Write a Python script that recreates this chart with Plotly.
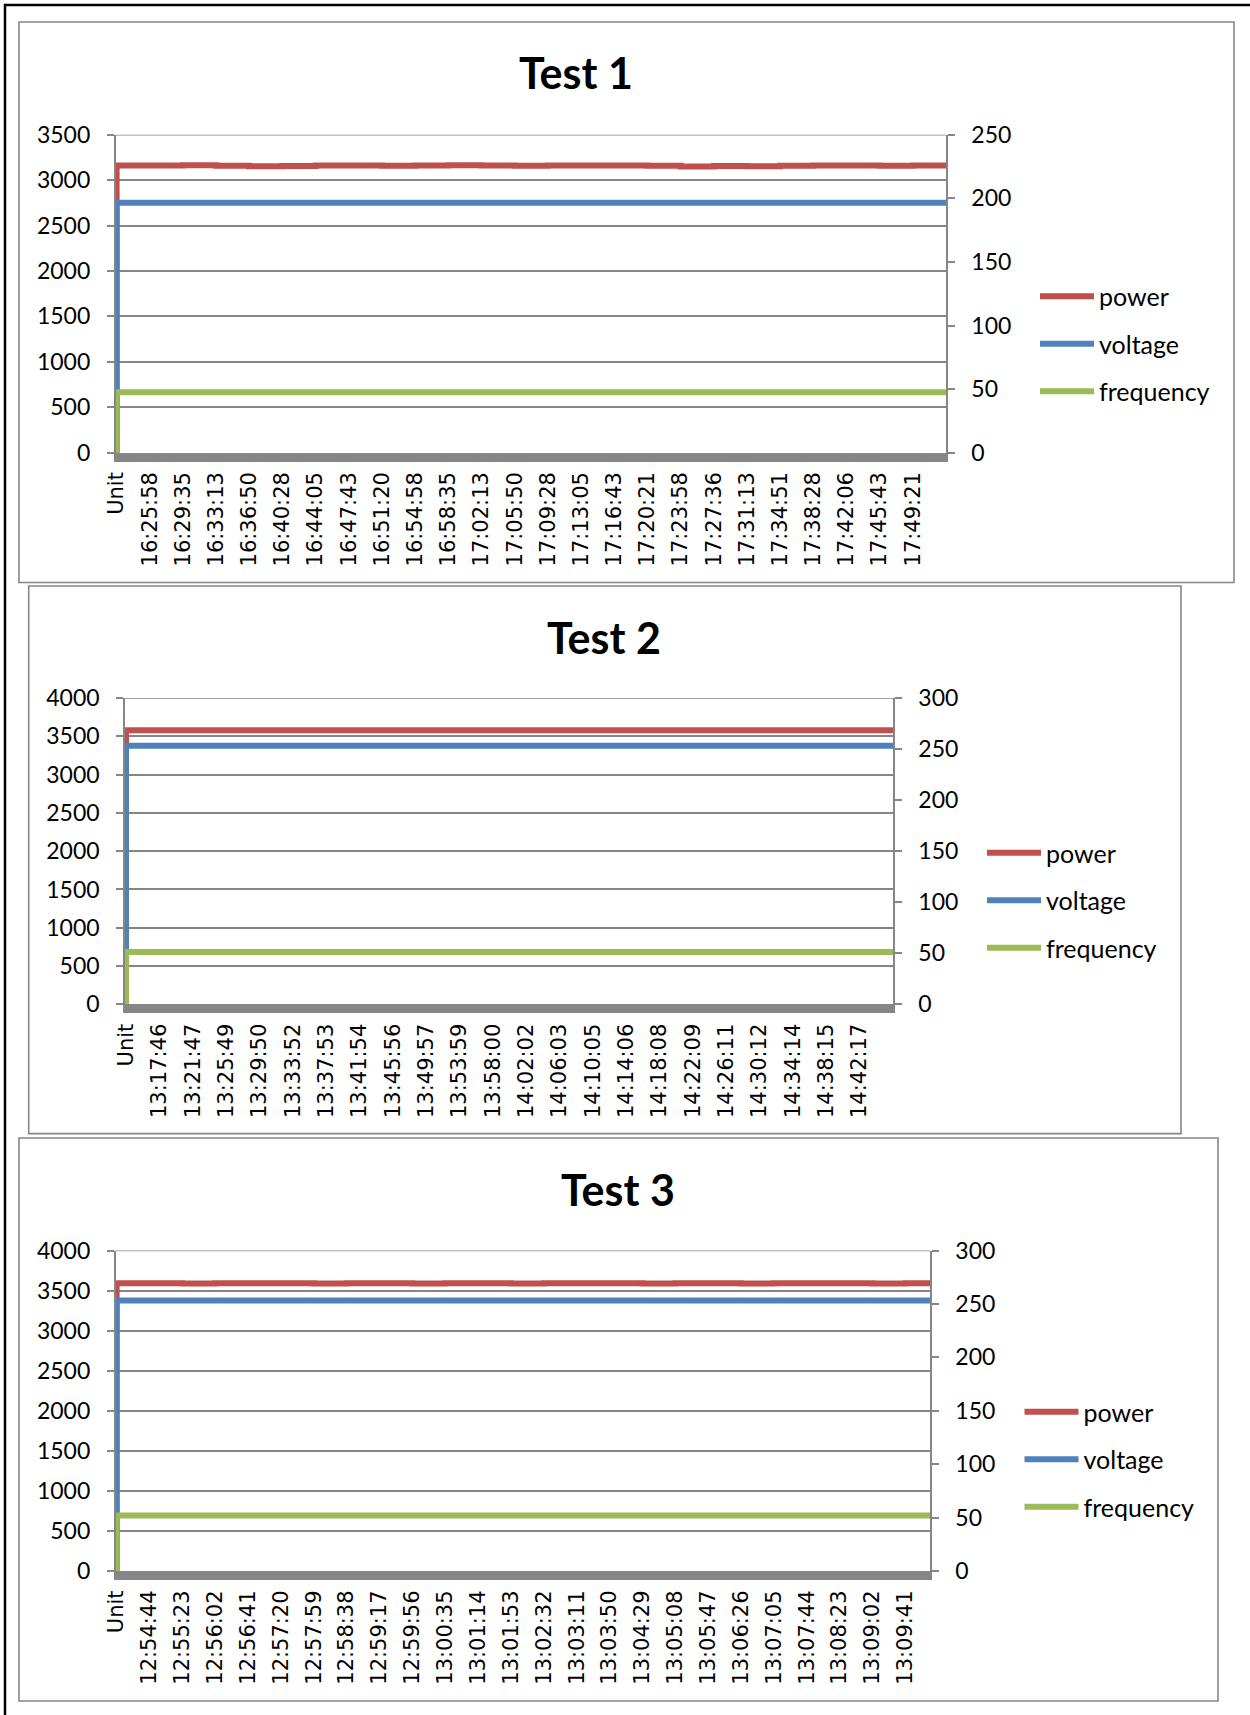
import plotly.graph_objects as go

# ---------------- data ----------------
series_names = ["power", "voltage", "frequency"]
series_colors = ["#C0504D", "#4F81BD", "#9BBB59"]

test1_times = ["16:25:58", "16:29:35", "16:33:13", "16:36:50", "16:40:28", "16:44:05",
               "16:47:43", "16:51:20", "16:54:58", "16:58:35", "17:02:13", "17:05:50",
               "17:09:28", "17:13:05", "17:16:43", "17:20:21", "17:23:58", "17:27:36",
               "17:31:13", "17:34:51", "17:38:28", "17:42:06", "17:45:43", "17:49:21"]
test2_times = ["13:17:46", "13:21:47", "13:25:49", "13:29:50", "13:33:52", "13:37:53",
               "13:41:54", "13:45:56", "13:49:57", "13:53:59", "13:58:00", "14:02:02",
               "14:06:03", "14:10:05", "14:14:06", "14:18:08", "14:22:09", "14:26:11",
               "14:30:12", "14:34:14", "14:38:15", "14:42:17"]
test3_times = ["12:54:44", "12:55:23", "12:56:02", "12:56:41", "12:57:20", "12:57:59",
               "12:58:38", "12:59:17", "12:59:56", "13:00:35", "13:01:14", "13:01:53",
               "13:02:32", "13:03:11", "13:03:50", "13:04:29", "13:05:08", "13:05:47",
               "13:06:26", "13:07:05", "13:07:44", "13:08:23", "13:09:02", "13:09:41"]

# first value belongs to the "Unit" header row
test1_power = [0, 3162, 3160, 3163, 3158, 3152, 3155, 3160, 3162, 3158, 3160, 3163, 3161,
               3159, 3161, 3160, 3162, 3159, 3151, 3155, 3152, 3157, 3161, 3160, 3158, 3162]
test1_voltage = [0, 196.5, 196.5, 196.5, 196.5, 196.5, 196.5, 196.5, 196.5, 196.5, 196.5,
                 196.5, 196.5, 196.5, 196.5, 196.5, 196.5, 196.5, 196.5, 196.5, 196.5,
                 196.5, 196.5, 196.5, 196.5, 196.5]
test1_frequency = [0, 47.5, 47.5, 47.5, 47.5, 47.5, 47.5, 47.5, 47.5, 47.5, 47.5, 47.5,
                   47.5, 47.5, 47.5, 47.5, 47.5, 47.5, 47.5, 47.5, 47.5, 47.5, 47.5, 47.5,
                   47.5, 47.5]

test2_power = [0, 3580, 3580, 3580, 3580, 3580, 3580, 3580, 3580, 3580, 3580, 3580, 3580,
               3580, 3580, 3580, 3580, 3580, 3580, 3580, 3580, 3580, 3580, 3580]
test2_voltage = [0, 253.3, 253.3, 253.3, 253.3, 253.3, 253.3, 253.3, 253.3, 253.3, 253.3,
                 253.3, 253.3, 253.3, 253.3, 253.3, 253.3, 253.3, 253.3, 253.3, 253.3,
                 253.3, 253.3, 253.3]
test2_frequency = [0, 51.3, 51.3, 51.3, 51.3, 51.3, 51.3, 51.3, 51.3, 51.3, 51.3, 51.3,
                   51.3, 51.3, 51.3, 51.3, 51.3, 51.3, 51.3, 51.3, 51.3, 51.3, 51.3, 51.3]

test3_power = [0, 3592, 3590, 3588, 3591, 3590, 3592, 3589, 3591, 3590, 3588, 3590, 3591,
               3589, 3590, 3592, 3590, 3588, 3590, 3591, 3589, 3590, 3592, 3590, 3589, 3591]
test3_voltage = [0, 253.3, 253.3, 253.3, 253.3, 253.3, 253.3, 253.3, 253.3, 253.3, 253.3,
                 253.3, 253.3, 253.3, 253.3, 253.3, 253.3, 253.3, 253.3, 253.3, 253.3,
                 253.3, 253.3, 253.3, 253.3, 253.3]
test3_frequency = [0, 51.9, 51.9, 51.9, 51.9, 51.9, 51.9, 51.9, 51.9, 51.9, 51.9, 51.9,
                   51.9, 51.9, 51.9, 51.9, 51.9, 51.9, 51.9, 51.9, 51.9, 51.9, 51.9, 51.9,
                   51.9, 51.9]

titles = ["Test 1", "Test 2", "Test 3"]
left_max = [3500, 4000, 4000]
right_max = [250, 300, 300]
x_end = [25, 23, 24.75]

tests = [
    (test1_times, test1_power, test1_voltage, test1_frequency),
    (test2_times, test2_power, test2_voltage, test2_frequency),
    (test3_times, test3_power, test3_voltage, test3_frequency),
]

# ---------------- layout geometry (pixels) ----------------
W, H = 1250, 1715
plot_px = [  # left, right, top, bottom of plot area
    (115.6, 946.0, 134.7, 452.7),
    (125.0, 893.0, 698.0, 1004.3),
    (115.6, 930.0, 1250.5, 1571.0),
]
box_px = [
    (19, 1234, 22, 582.5),
    (28.7, 1181, 586, 1133.6),
    (19, 1218, 1138, 1701),
]
title_px = [(576, 72), (603.5, 637), (618, 1189)]
legend_px = [(1035, 273.5), (982, 830), (1019.5, 1389)]

GRID = "#858585"
AXIS = "#868686"
NUMFONT = dict(family="Lato", size=23, color="black")
XFONT = dict(family="DejaVu Sans", size=21, color="black")


def px(x):
    return x / W


def py(y):
    return 1 - y / H


fig = go.Figure()
layout = dict(
    width=W, height=H, autosize=False,
    margin=dict(l=0, r=0, t=0, b=0, pad=0, autoexpand=False),
    paper_bgcolor="white", plot_bgcolor="white",
    showlegend=True,
)
shapes = []
annotations = []

for i, (times, power, voltage, freq) in enumerate(tests):
    n = i + 1
    xa = "x" if n == 1 else f"x{n}"
    ya_l = "y" if n == 1 else f"y{2 * n - 1}"
    ya_r = f"y{2 * n}"
    leg = "legend" if n == 1 else f"legend{n}"
    labels = ["Unit"] + times
    values = [power, voltage, freq]
    for k, (name, color, vals) in enumerate(zip(series_names, series_colors, values)):
        fig.add_trace(go.Scatter(
            x=list(range(len(vals))), y=vals,
            mode="lines", line=dict(color=color, width=6, shape="vh"),
            name=name, xaxis=xa, yaxis=ya_l if k == 0 else ya_r,
            legend=leg, legendgroup=f"{n}-{name}", hoverinfo="skip",
        ))
    l, r, t, b = plot_px[i]
    xkey = "xaxis" if n == 1 else f"xaxis{n}"
    ylkey = "yaxis" if n == 1 else f"yaxis{2 * n - 1}"
    yrkey = f"yaxis{2 * n}"
    layout[xkey] = dict(
        domain=[px(l), px(r)], anchor=ya_l, range=[-0.03, x_end[i]],
        tickmode="array", tickvals=list(range(len(labels))), ticktext=labels,
        tickangle=-90, tickfont=XFONT, showgrid=False, zeroline=False,
        showline=True, linecolor=AXIS, linewidth=9, ticks="",
        ticklabelstandoff=2, automargin=False,
    )
    layout[ylkey] = dict(
        domain=[py(b), py(t)], anchor=xa, range=[0, left_max[i]],
        tickmode="linear", tick0=0, dtick=500, tickfont=NUMFONT,
        showgrid=True, gridcolor=GRID, gridwidth=1.5, zeroline=False,
        showline=True, linecolor=AXIS, linewidth=1.5,
        ticks="outside", ticklen=7, tickcolor=AXIS, tickwidth=1.5,
        ticklabelstandoff=12, automargin=False,
    )
    layout[yrkey] = dict(
        overlaying=ya_l, side="right", anchor=xa, range=[0, right_max[i]],
        tickmode="linear", tick0=0, dtick=50, tickfont=NUMFONT,
        showgrid=False, zeroline=False,
        showline=True, linecolor=AXIS, linewidth=1.5,
        ticks="outside", ticklen=7, tickcolor=AXIS, tickwidth=1.5,
        ticklabelstandoff=12, automargin=False,
    )
    lx, ly = legend_px[i]
    layout[leg] = dict(
        x=px(lx), y=py(ly), xanchor="left", yanchor="top",
        bgcolor="rgba(0,0,0,0)", borderwidth=0,
        font=dict(family="Lato", size=25, color="black"),
        tracegroupgap=12, itemwidth=54,
    )
    # top gridline at the axis maximum
    shapes.append(dict(type="line", xref=f"{xa} domain", yref=ya_l,
                       x0=0, x1=1, y0=left_max[i], y1=left_max[i],
                       line=dict(color=GRID, width=1.5), layer="below"))
    bl, br, bt, bb = box_px[i]
    shapes.append(dict(type="rect", xref="paper", yref="paper",
                       x0=px(bl), x1=px(br), y0=py(bb), y1=py(bt),
                       line=dict(color=AXIS, width=1.6), layer="below"))
    tx, ty = title_px[i]
    annotations.append(dict(text=f"<b>{titles[i]}</b>", xref="paper", yref="paper",
                            x=px(tx), y=py(ty), xanchor="center", yanchor="middle",
                            showarrow=False,
                            font=dict(family="Lato", size=43, color="black")))

# outer black frame (cropped at right/bottom)
shapes.append(dict(type="rect", xref="paper", yref="paper",
                   x0=px(5), x1=px(1262), y0=py(1730), y1=py(5),
                   line=dict(color="black", width=2.5), layer="below"))

layout["shapes"] = shapes
layout["annotations"] = annotations
fig.update_layout(**layout)

fig.write_html(
    "out.html",
    config={"displayModeBar": False},
    post_script="document.body.style.margin='0';document.body.style.padding='0';"
                "document.documentElement.style.overflow='hidden';"
                "document.body.style.overflow='hidden';",
)
